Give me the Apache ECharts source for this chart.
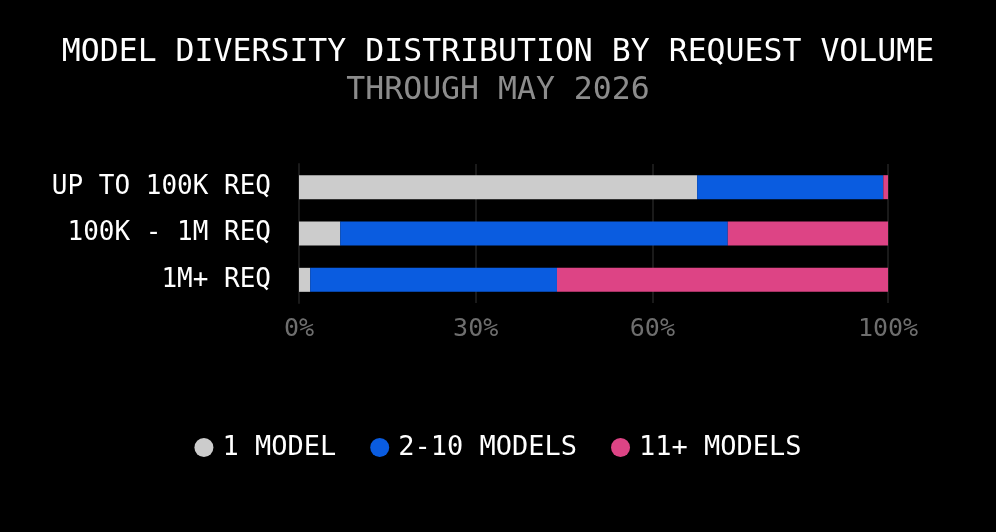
<!DOCTYPE html>
<html>
<head>
<meta charset="UTF-8">
<title>Model diversity distribution</title>
<script type="text/javascript" src="https://cdn.jsdelivr.net/npm/echarts@6.0.0/dist/echarts.min.js"></script>
<style type="text/css">
html, body {
	margin: 0;
	padding: 0;
	background-color: #000;
}
#chart {
	width: 996px;
	height: 532px;
}
</style>
</head>
<body>
	<div id="chart"></div>
</body>
<script type="text/javascript">
	var categories = [ 'UP TO 100K REQ', '100K - 1M REQ', '1M+ REQ' ];
	var seriesNames = [ '1 MODEL', '2-10 MODELS', '11+ MODELS' ];
	var oneModel = [ 67.6, 7.0, 1.9 ];
	var twoToTen = [ 31.6, 65.8, 41.9 ];
	var elevenPlus = [ 0.8, 27.2, 56.2 ];
	var tickValues = [ 0, 30, 60, 100 ];

	var mono = "'DejaVu Sans Mono', 'Liberation Mono', monospace";
	var colors = [ '#cccccc', '#0a5ce0', '#dd4485' ];

	function initChart() {
		var myChart = echarts.init(document.getElementById('chart'));
		var values = [ oneModel, twoToTen, elevenPlus ];
		var series = [];
		for (var i = 0; i < seriesNames.length; i++) {
			series.push({
				name : seriesNames[i],
				type : 'bar',
				stack : 'total',
				barWidth : 24,
				itemStyle : {
					color : colors[i]
				},
				data : values[i]
			});
		}
		var option = {
			backgroundColor : '#000',
			animation : false,
			title : {
				text : 'MODEL DIVERSITY DISTRIBUTION BY REQUEST VOLUME',
				subtext : 'THROUGH MAY 2026',
				left : 'center',
				top : 32,
				itemGap : 6,
				textStyle : {
					color : '#ffffff',
					fontFamily : mono,
					fontSize : 31.5,
					fontWeight : 'normal'
				},
				subtextStyle : {
					color : '#8c8c8c',
					fontFamily : mono,
					fontSize : 31.5
				}
			},
			legend : {
				bottom : 66,
				left : 'center',
				icon : 'circle',
				itemWidth : 19,
				itemHeight : 19,
				itemGap : 34,
				textStyle : {
					color : '#ffffff',
					fontFamily : mono,
					fontSize : 27,
					padding : [ 0, 0, 0, 4 ]
				},
				data : seriesNames
			},
			grid : {
				left : 299,
				right : 108,
				top : 164,
				bottom : 229
			},
			xAxis : {
				type : 'value',
				min : 0,
				max : 100,
				axisLine : {
					show : false
				},
				axisTick : {
					show : false,
					customValues : tickValues
				},
				splitLine : {
					show : true,
					lineStyle : {
						color : '#1a1a1a',
						width : 2
					}
				},
				axisLabel : {
					customValues : tickValues,
					color : '#6e6e6e',
					fontFamily : mono,
					fontSize : 25,
					margin : 14,
					formatter : function(v) {
						return v + '%';
					}
				}
			},
			yAxis : {
				type : 'category',
				inverse : true,
				data : categories,
				axisLine : {
					show : true,
					lineStyle : {
						color : '#1a1a1a',
						width : 2
					}
				},
				axisTick : {
					show : false
				},
				axisLabel : {
					color : '#ffffff',
					fontFamily : mono,
					fontSize : 26,
					margin : 28
				}
			},
			series : series
		};
		myChart.setOption(option);
	}
	initChart();
</script>
</html>
